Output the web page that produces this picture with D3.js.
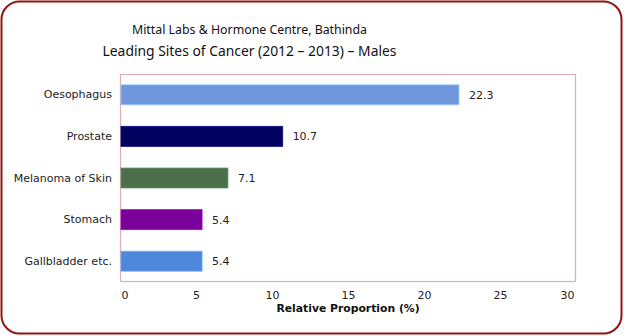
<!DOCTYPE html>
<html>
<head>
<meta charset="utf-8">
<script src="https://cdn.jsdelivr.net/npm/d3@7/dist/d3.min.js"></script>
<style>
  html, body { margin: 0; padding: 0; background: #fff; }
  svg { display: block; font-family: "Lucida Grande", "DejaVu Sans", sans-serif; }
</style>
</head>
<body>
<svg id="chart" width="624" height="336"></svg>
<script>
// Leading cancer sites among males, 2012–2013 (relative proportion, %)
const categories = ["Oesophagus", "Prostate", "Melanoma of Skin", "Stomach", "Gallbladder etc."];
const values = [22.3, 10.7, 7.1, 5.4, 5.4];
const barColors = ["#7096dc", "#00005e", "#4b6e4b", "#7b009a", "#4f87dc"];
const xTicks = [0, 5, 10, 15, 20, 25, 30];
const titleLines = ["Mittal Labs & Hormone Centre, Bathinda", "Leading Sites of Cancer (2012 \u2013 2013) \u2013 Males"];
const xAxisTitle = "Relative Proportion (%)";

const svg = d3.select("#chart");
const plot = { left: 120, right: 576, top: 74, bottom: 282 };

// Outer rounded frame
svg.append("rect")
  .attr("x", 1.5).attr("y", 1.5)
  .attr("width", 620).attr("height", 332)
  .attr("rx", 18).attr("ry", 18)
  .attr("fill", "#fff")
  .attr("stroke", "#8f1414")
  .attr("stroke-width", 2);

// Titles (narrower face, sized to the two-line heading)
const titleG = svg.append("g").attr("text-anchor", "middle").attr("fill", "#111")
  .style("font-family", "\"Noto Sans\", \"Open Sans\", sans-serif");
const t1 = titleG.append("text").attr("x", 249.5).attr("y", 34)
  .attr("font-size", 13.4).text(titleLines[0]);
const t2 = titleG.append("text").attr("x", 249.5).attr("y", 56)
  .attr("font-size", 15.6).text(titleLines[1]);
// keep each heading line to its intended width
[[t1, 235], [t2, 294]].forEach(([t, w]) => {
  const len = t.node().getComputedTextLength();
  const fs = +t.attr("font-size");
  t.attr("font-size", (fs * w / len).toFixed(2));
});

const x = d3.scaleLinear().domain([0, 30]).range([plot.left, plot.right]);
const y = d3.scaleBand().domain(categories).range([plot.top, plot.bottom]).paddingInner(0.52).paddingOuter(0.26);

// Plot area frame
svg.append("rect")
  .attr("x", plot.left + 0.5).attr("y", plot.top + 0.5)
  .attr("width", plot.right - plot.left - 1).attr("height", plot.bottom - plot.top - 1)
  .attr("fill", "none")
  .attr("stroke", "#dcb0b4")
  .attr("stroke-width", 1.2);

// Bars
const data = categories.map((c, i) => ({ c, v: values[i], color: barColors[i] }));
svg.append("g").selectAll("rect").data(data).join("rect")
  .attr("x", x(0) + 1)
  .attr("y", d => y(d.c))
  .attr("width", d => x(d.v) - x(0) - 1)
  .attr("height", y.bandwidth())
  .attr("fill", d => d.color)
  .attr("stroke", d => d3.color(d.color).brighter(0.8))
  .attr("stroke-opacity", 0.8)
  .attr("stroke-width", 1);

// Value labels
svg.append("g").selectAll("text").data(data).join("text")
  .attr("x", d => x(d.v) + 10)
  .attr("y", d => y(d.c) + y.bandwidth() / 2)
  .attr("dy", "0.36em")
  .attr("font-size", 11)
  .attr("fill", "#222")
  .text(d => d.v.toFixed(1));

// Category axis
const yAxis = svg.append("g")
  .attr("transform", `translate(${plot.left},0)`)
  .call(d3.axisLeft(y).tickSize(0).tickPadding(8));
yAxis.select(".domain").remove();
yAxis.selectAll("text").attr("font-size", 11).attr("fill", "#222")
  .style("font-family", "\"Lucida Grande\", \"DejaVu Sans\", sans-serif");

// Value axis
const xAxis = svg.append("g")
  .attr("transform", `translate(0,${plot.bottom})`)
  .call(d3.axisBottom(x).tickValues(xTicks).tickSize(0).tickPadding(9).tickFormat(d3.format("d")));
xAxis.select(".domain").remove();
xAxis.selectAll("text").attr("font-size", 11).attr("fill", "#222")
  .style("font-family", "\"Lucida Grande\", \"DejaVu Sans\", sans-serif")
  .attr("text-anchor", d => d === xTicks[0] ? "start" : d === xTicks[xTicks.length - 1] ? "end" : "middle")
  .attr("dx", d => d === xTicks[0] ? 1 : d === xTicks[xTicks.length - 1] ? -2 : 0);

// Axis title
svg.append("text")
  .attr("x", (plot.left + plot.right) / 2)
  .attr("y", 312)
  .attr("text-anchor", "middle")
  .attr("font-size", 10.8)
  .attr("font-weight", "bold")
  .attr("fill", "#111")
  .text(xAxisTitle);
</script>
</body>
</html>
